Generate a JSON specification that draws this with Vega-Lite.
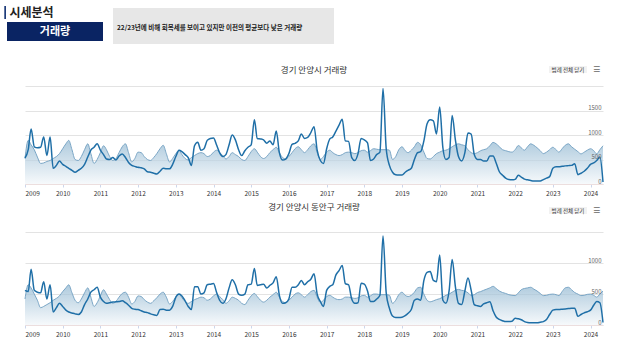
{
 "$schema": "https://vega.github.io/schema/vega-lite/v6.json",
 "background": "white",
 "padding": 0,
 "bounds": "flush",
 "spacing": 42,
 "config": {"view": {"stroke": null}, "font": "Noto Sans CJK KR"},
 "datasets": {
  "a": [
{"d":"2009-01","v":530,"a":520},{"d":"2009-02","v":700,"a":890},{"d":"2009-03","v":1120,"a":800},{"d":"2009-04","v":760,"a":700},{"d":"2009-05","v":740,"a":550},{"d":"2009-06","v":750,"a":420},{"d":"2009-07","v":960,"a":430},{"d":"2009-08","v":580,"a":460},{"d":"2009-09","v":960,"a":480},{"d":"2009-10","v":320,"a":520},{"d":"2009-11","v":380,"a":560},{"d":"2009-12","v":470,"a":620},
{"d":"2010-01","v":400,"a":720},{"d":"2010-02","v":360,"a":820},{"d":"2010-03","v":320,"a":890},{"d":"2010-04","v":280,"a":700},{"d":"2010-05","v":240,"a":500},{"d":"2010-06","v":280,"a":480},{"d":"2010-07","v":320,"a":560},{"d":"2010-08","v":400,"a":700},{"d":"2010-09","v":550,"a":820},{"d":"2010-10","v":690,"a":620},{"d":"2010-11","v":750,"a":420},{"d":"2010-12","v":820,"a":500},
{"d":"2011-01","v":690,"a":640},{"d":"2011-02","v":600,"a":780},{"d":"2011-03","v":510,"a":700},{"d":"2011-04","v":500,"a":560},{"d":"2011-05","v":540,"a":480},{"d":"2011-06","v":490,"a":520},{"d":"2011-07","v":570,"a":640},{"d":"2011-08","v":610,"a":760},{"d":"2011-09","v":540,"a":820},{"d":"2011-10","v":440,"a":640},{"d":"2011-11","v":380,"a":450},{"d":"2011-12","v":360,"a":520},
{"d":"2012-01","v":340,"a":650},{"d":"2012-02","v":330,"a":640},{"d":"2012-03","v":310,"a":560},{"d":"2012-04","v":250,"a":500},{"d":"2012-05","v":240,"a":480},{"d":"2012-06","v":220,"a":540},{"d":"2012-07","v":205,"a":620},{"d":"2012-08","v":260,"a":720},{"d":"2012-09","v":320,"a":790},{"d":"2012-10","v":310,"a":620},{"d":"2012-11","v":310,"a":450},{"d":"2012-12","v":400,"a":520},
{"d":"2013-01","v":560,"a":620},{"d":"2013-02","v":690,"a":690},{"d":"2013-03","v":660,"a":600},{"d":"2013-04","v":600,"a":520},{"d":"2013-05","v":540,"a":490},{"d":"2013-06","v":380,"a":540},{"d":"2013-07","v":780,"a":580},{"d":"2013-08","v":850,"a":620},{"d":"2013-09","v":690,"a":640},{"d":"2013-10","v":720,"a":620},{"d":"2013-11","v":890,"a":560},{"d":"2013-12","v":930,"a":580},
{"d":"2014-01","v":940,"a":650},{"d":"2014-02","v":790,"a":690},{"d":"2014-03","v":640,"a":640},{"d":"2014-04","v":560,"a":580},{"d":"2014-05","v":600,"a":510},{"d":"2014-06","v":800,"a":560},{"d":"2014-07","v":1000,"a":640},{"d":"2014-08","v":900,"a":600},{"d":"2014-09","v":700,"a":560},{"d":"2014-10","v":580,"a":500},{"d":"2014-11","v":680,"a":480},{"d":"2014-12","v":750,"a":560},
{"d":"2015-01","v":800,"a":660},{"d":"2015-02","v":1310,"a":720},{"d":"2015-03","v":930,"a":650},{"d":"2015-04","v":920,"a":560},{"d":"2015-05","v":900,"a":520},{"d":"2015-06","v":830,"a":560},{"d":"2015-07","v":880,"a":640},{"d":"2015-08","v":800,"a":700},{"d":"2015-09","v":1080,"a":750},{"d":"2015-10","v":640,"a":640},{"d":"2015-11","v":490,"a":540},{"d":"2015-12","v":510,"a":510},
{"d":"2016-01","v":620,"a":560},{"d":"2016-02","v":810,"a":640},{"d":"2016-03","v":830,"a":720},{"d":"2016-04","v":880,"a":760},{"d":"2016-05","v":1020,"a":700},{"d":"2016-06","v":930,"a":640},{"d":"2016-07","v":950,"a":700},{"d":"2016-08","v":1050,"a":780},{"d":"2016-09","v":1170,"a":820},{"d":"2016-10","v":690,"a":640},{"d":"2016-11","v":480,"a":500},{"d":"2016-12","v":420,"a":560},
{"d":"2017-01","v":720,"a":650},{"d":"2017-02","v":920,"a":690},{"d":"2017-03","v":960,"a":640},{"d":"2017-04","v":1080,"a":600},{"d":"2017-05","v":1200,"a":580},{"d":"2017-06","v":1320,"a":600},{"d":"2017-07","v":880,"a":640},{"d":"2017-08","v":870,"a":650},{"d":"2017-09","v":540,"a":640},{"d":"2017-10","v":480,"a":620},{"d":"2017-11","v":620,"a":640},{"d":"2017-12","v":930,"a":680},
{"d":"2018-01","v":900,"a":690},{"d":"2018-02","v":840,"a":650},{"d":"2018-03","v":480,"a":680},{"d":"2018-04","v":510,"a":720},{"d":"2018-05","v":600,"a":710},{"d":"2018-06","v":650,"a":700},{"d":"2018-07","v":1950,"a":700},{"d":"2018-08","v":720,"a":700},{"d":"2018-09","v":380,"a":690},{"d":"2018-10","v":240,"a":500},{"d":"2018-11","v":190,"a":560},{"d":"2018-12","v":185,"a":700},
{"d":"2019-01","v":185,"a":760},{"d":"2019-02","v":240,"a":680},{"d":"2019-03","v":280,"a":640},{"d":"2019-04","v":320,"a":690},{"d":"2019-05","v":500,"a":760},{"d":"2019-06","v":640,"a":850},{"d":"2019-07","v":660,"a":800},{"d":"2019-08","v":880,"a":650},{"d":"2019-09","v":1230,"a":520},{"d":"2019-10","v":1310,"a":510},{"d":"2019-11","v":1290,"a":560},{"d":"2019-12","v":1020,"a":620},
{"d":"2020-01","v":1570,"a":650},{"d":"2020-02","v":740,"a":680},{"d":"2020-03","v":500,"a":690},{"d":"2020-04","v":540,"a":720},{"d":"2020-05","v":1400,"a":760},{"d":"2020-06","v":900,"a":800},{"d":"2020-07","v":560,"a":820},{"d":"2020-08","v":470,"a":800},{"d":"2020-09","v":640,"a":780},{"d":"2020-10","v":1040,"a":700},{"d":"2020-11","v":1020,"a":640},{"d":"2020-12","v":600,"a":620},
{"d":"2021-01","v":500,"a":640},{"d":"2021-02","v":500,"a":680},{"d":"2021-03","v":470,"a":700},{"d":"2021-04","v":470,"a":720},{"d":"2021-05","v":570,"a":780},{"d":"2021-06","v":570,"a":850},{"d":"2021-07","v":430,"a":820},{"d":"2021-08","v":250,"a":760},{"d":"2021-09","v":180,"a":700},{"d":"2021-10","v":120,"a":680},{"d":"2021-11","v":90,"a":660},{"d":"2021-12","v":85,"a":650},
{"d":"2022-01","v":95,"a":700},{"d":"2022-02","v":180,"a":785},{"d":"2022-03","v":140,"a":740},{"d":"2022-04","v":100,"a":690},{"d":"2022-05","v":85,"a":760},{"d":"2022-06","v":70,"a":820},{"d":"2022-07","v":60,"a":790},{"d":"2022-08","v":60,"a":740},{"d":"2022-09","v":60,"a":680},{"d":"2022-10","v":90,"a":620},{"d":"2022-11","v":120,"a":650},{"d":"2022-12","v":150,"a":700},
{"d":"2023-01","v":320,"a":750},{"d":"2023-02","v":350,"a":700},{"d":"2023-03","v":350,"a":650},{"d":"2023-04","v":360,"a":720},{"d":"2023-05","v":370,"a":790},{"d":"2023-06","v":375,"a":820},{"d":"2023-07","v":380,"a":760},{"d":"2023-08","v":415,"a":710},{"d":"2023-09","v":190,"a":660},{"d":"2023-10","v":220,"a":615},{"d":"2023-11","v":260,"a":650},{"d":"2023-12","v":320,"a":690},
{"d":"2024-01","v":400,"a":720},{"d":"2024-02","v":430,"a":680},{"d":"2024-03","v":480,"a":615},{"d":"2024-04","v":550,"a":700},{"d":"2024-05","v":40,"a":780}
  ],
  "b": [
{"d":"2009-01","v":560,"a":420},{"d":"2009-02","v":540,"a":650},{"d":"2009-03","v":900,"a":600},{"d":"2009-04","v":560,"a":500},{"d":"2009-05","v":530,"a":400},{"d":"2009-06","v":520,"a":280},{"d":"2009-07","v":700,"a":300},{"d":"2009-08","v":420,"a":330},{"d":"2009-09","v":650,"a":360},{"d":"2009-10","v":210,"a":400},{"d":"2009-11","v":280,"a":430},{"d":"2009-12","v":350,"a":470},
{"d":"2010-01","v":300,"a":540},{"d":"2010-02","v":240,"a":600},{"d":"2010-03","v":210,"a":650},{"d":"2010-04","v":195,"a":520},{"d":"2010-05","v":180,"a":400},{"d":"2010-06","v":170,"a":360},{"d":"2010-07","v":210,"a":420},{"d":"2010-08","v":330,"a":520},{"d":"2010-09","v":420,"a":600},{"d":"2010-10","v":530,"a":450},{"d":"2010-11","v":570,"a":300},{"d":"2010-12","v":610,"a":360},
{"d":"2011-01","v":450,"a":470},{"d":"2011-02","v":380,"a":570},{"d":"2011-03","v":350,"a":500},{"d":"2011-04","v":360,"a":410},{"d":"2011-05","v":370,"a":350},{"d":"2011-06","v":375,"a":380},{"d":"2011-07","v":380,"a":450},{"d":"2011-08","v":390,"a":510},{"d":"2011-09","v":360,"a":530},{"d":"2011-10","v":320,"a":450},{"d":"2011-11","v":270,"a":340},{"d":"2011-12","v":255,"a":380},
{"d":"2012-01","v":250,"a":470},{"d":"2012-02","v":230,"a":460},{"d":"2012-03","v":210,"a":410},{"d":"2012-04","v":200,"a":370},{"d":"2012-05","v":180,"a":350},{"d":"2012-06","v":165,"a":390},{"d":"2012-07","v":155,"a":440},{"d":"2012-08","v":250,"a":500},{"d":"2012-09","v":255,"a":530},{"d":"2012-10","v":240,"a":450},{"d":"2012-11","v":240,"a":340},{"d":"2012-12","v":300,"a":380},
{"d":"2013-01","v":450,"a":450},{"d":"2013-02","v":500,"a":500},{"d":"2013-03","v":470,"a":440},{"d":"2013-04","v":390,"a":380},{"d":"2013-05","v":300,"a":350},{"d":"2013-06","v":250,"a":380},{"d":"2013-07","v":620,"a":410},{"d":"2013-08","v":620,"a":430},{"d":"2013-09","v":500,"a":450},{"d":"2013-10","v":520,"a":440},{"d":"2013-11","v":650,"a":400},{"d":"2013-12","v":660,"a":420},
{"d":"2014-01","v":670,"a":470},{"d":"2014-02","v":520,"a":500},{"d":"2014-03","v":400,"a":460},{"d":"2014-04","v":350,"a":410},{"d":"2014-05","v":420,"a":350},{"d":"2014-06","v":600,"a":390},{"d":"2014-07","v":730,"a":450},{"d":"2014-08","v":650,"a":430},{"d":"2014-09","v":500,"a":400},{"d":"2014-10","v":480,"a":350},{"d":"2014-11","v":500,"a":330},{"d":"2014-12","v":650,"a":400},
{"d":"2015-01","v":660,"a":470},{"d":"2015-02","v":915,"a":510},{"d":"2015-03","v":640,"a":460},{"d":"2015-04","v":650,"a":400},{"d":"2015-05","v":660,"a":370},{"d":"2015-06","v":600,"a":400},{"d":"2015-07","v":640,"a":450},{"d":"2015-08","v":680,"a":490},{"d":"2015-09","v":780,"a":530},{"d":"2015-10","v":480,"a":450},{"d":"2015-11","v":350,"a":380},{"d":"2015-12","v":360,"a":360},
{"d":"2016-01","v":420,"a":400},{"d":"2016-02","v":610,"a":450},{"d":"2016-03","v":610,"a":500},{"d":"2016-04","v":650,"a":520},{"d":"2016-05","v":720,"a":490},{"d":"2016-06","v":650,"a":450},{"d":"2016-07","v":700,"a":490},{"d":"2016-08","v":740,"a":540},{"d":"2016-09","v":830,"a":560},{"d":"2016-10","v":500,"a":450},{"d":"2016-11","v":380,"a":360},{"d":"2016-12","v":300,"a":400},
{"d":"2017-01","v":560,"a":460},{"d":"2017-02","v":625,"a":480},{"d":"2017-03","v":650,"a":450},{"d":"2017-04","v":810,"a":420},{"d":"2017-05","v":880,"a":410},{"d":"2017-06","v":960,"a":420},{"d":"2017-07","v":670,"a":450},{"d":"2017-08","v":650,"a":450},{"d":"2017-09","v":420,"a":440},{"d":"2017-10","v":350,"a":430},{"d":"2017-11","v":360,"a":440},{"d":"2017-12","v":675,"a":470},
{"d":"2018-01","v":660,"a":480},{"d":"2018-02","v":550,"a":450},{"d":"2018-03","v":380,"a":470},{"d":"2018-04","v":380,"a":500},{"d":"2018-05","v":420,"a":500},{"d":"2018-06","v":480,"a":490},{"d":"2018-07","v":1440,"a":490},{"d":"2018-08","v":520,"a":490},{"d":"2018-09","v":270,"a":480},{"d":"2018-10","v":145,"a":350},{"d":"2018-11","v":120,"a":400},{"d":"2018-12","v":120,"a":490},
{"d":"2019-01","v":125,"a":530},{"d":"2019-02","v":150,"a":480},{"d":"2019-03","v":190,"a":460},{"d":"2019-04","v":250,"a":480},{"d":"2019-05","v":400,"a":530},{"d":"2019-06","v":420,"a":600},{"d":"2019-07","v":400,"a":610},{"d":"2019-08","v":720,"a":500},{"d":"2019-09","v":850,"a":400},{"d":"2019-10","v":865,"a":375},{"d":"2019-11","v":720,"a":390},{"d":"2019-12","v":700,"a":410},
{"d":"2020-01","v":1130,"a":425},{"d":"2020-02","v":400,"a":450},{"d":"2020-03","v":350,"a":480},{"d":"2020-04","v":550,"a":500},{"d":"2020-05","v":1060,"a":530},{"d":"2020-06","v":620,"a":560},{"d":"2020-07","v":350,"a":575},{"d":"2020-08","v":330,"a":560},{"d":"2020-09","v":550,"a":550},{"d":"2020-10","v":760,"a":520},{"d":"2020-11","v":560,"a":480},{"d":"2020-12","v":330,"a":490},
{"d":"2021-01","v":310,"a":525},{"d":"2021-02","v":300,"a":540},{"d":"2021-03","v":340,"a":560},{"d":"2021-04","v":360,"a":580},{"d":"2021-05","v":375,"a":600},{"d":"2021-06","v":230,"a":625},{"d":"2021-07","v":130,"a":590},{"d":"2021-08","v":90,"a":550},{"d":"2021-09","v":70,"a":525},{"d":"2021-10","v":55,"a":510},{"d":"2021-11","v":55,"a":490},{"d":"2021-12","v":60,"a":480},
{"d":"2022-01","v":110,"a":475},{"d":"2022-02","v":100,"a":520},{"d":"2022-03","v":85,"a":570},{"d":"2022-04","v":55,"a":590},{"d":"2022-05","v":40,"a":600},{"d":"2022-06","v":35,"a":610},{"d":"2022-07","v":35,"a":580},{"d":"2022-08","v":35,"a":550},{"d":"2022-09","v":45,"a":510},{"d":"2022-10","v":55,"a":475},{"d":"2022-11","v":90,"a":480},{"d":"2022-12","v":170,"a":495},
{"d":"2023-01","v":240,"a":500},{"d":"2023-02","v":250,"a":490},{"d":"2023-03","v":250,"a":475},{"d":"2023-04","v":255,"a":540},{"d":"2023-05","v":260,"a":600},{"d":"2023-06","v":265,"a":610},{"d":"2023-07","v":270,"a":570},{"d":"2023-08","v":270,"a":525},{"d":"2023-09","v":140,"a":500},{"d":"2023-10","v":170,"a":475},{"d":"2023-11","v":195,"a":480},{"d":"2023-12","v":215,"a":495},
{"d":"2024-01","v":240,"a":500},{"d":"2024-02","v":320,"a":480},{"d":"2024-03","v":380,"a":450},{"d":"2024-04","v":360,"a":500},{"d":"2024-05","v":40,"a":550}
  ]
 },
 "vconcat": [
  {
   "width": 578, "height": 44,
   "data": {"values": [{}]},
   "layer": [
    {"mark": {"type": "rect", "x": -25, "x2": 615, "y": 0, "y2": 44, "fill": "white"}},
    {"mark": {"type": "rect", "x": -20.7, "x2": -19, "y": 6, "y2": 19, "fill": "#1d3b7a"}},
    {"mark": {"type": "text", "x": -15.5, "y": 13, "text": "시세분석", "fontSize": 12, "fontWeight": "bold", "align": "left", "baseline": "middle", "fill": "#222222"}},
    {"mark": {"type": "rect", "x": -18, "x2": 78, "y": 22, "y2": 41, "fill": "#0a2463"}},
    {"mark": {"type": "text", "x": 30, "y": 31.5, "text": "거래량", "fontSize": 11, "fontWeight": "bold", "align": "center", "baseline": "middle", "fill": "white"}},
    {"mark": {"type": "rect", "x": 88, "x2": 309, "y": 8, "y2": 44, "fill": "#e7e7e7"}},
    {"mark": {"type": "text", "x": 92, "y": 28, "text": "22/23년에 비해 회복세를 보이고 있지만 이전의 평균보다 낮은 거래량", "fontSize": 6.5, "fontWeight": "bold", "align": "left", "baseline": "middle", "fill": "#222222"}}
   ]
  },
  {
   "width": 578, "height": 98,
   "title": {"text": "경기 안양시 거래량", "fontSize": 8.5, "fontWeight": "normal", "color": "#333333", "anchor": "middle", "offset": -9},
   "resolve": {"axis": {"y": "independent"}},
   "layer": [
    {
     "data": {"name": "a"},
     "mark": {"type": "area", "interpolate": "monotone", "line": {"color": "#7aa6c6", "strokeWidth": 1},
      "fill": {"gradient": "linear", "x1": 0, "y1": 0, "x2": 0, "y2": 1, "stops": [{"offset": 0, "color": "#8cb4cf"}, {"offset": 1, "color": "#f3f7fa"}]}},
     "encoding": {
      "x": {"field": "d", "type": "temporal", "scale": {"type": "utc", "domain": [{"year": 2009, "month": 1, "date": 1, "utc": true}, {"year": 2024, "month": 5, "date": 1, "utc": true}]},
       "axis": {"title": null, "format": "%Y", "tickCount": {"interval": "year", "step": 1}, "grid": false, "labelFlush": true, "labelFontSize": 6.5, "labelColor": "#333333", "labelPadding": 3, "tickSize": 3, "tickColor": "#ccd6eb", "domainColor": "#ecdede", "labelOverlap": false}},
      "y": {"field": "a", "type": "quantitative", "scale": {"domain": [0, 2000]},
       "axis": {"orient": "right", "title": null, "values": [0, 500, 1000, 1500, 2000], "labels": false, "grid": true, "gridColor": "#e3e3e3", "domain": false, "ticks": false, "zindex": 0}}
     }
    },
    {
     "data": {"name": "a"},
     "mark": {"type": "line", "interpolate": "monotone", "color": "#1f6fa7", "strokeWidth": 1.5},
     "encoding": {"x": {"field": "d", "type": "temporal"},
      "y": {"field": "v", "type": "quantitative",
       "axis": {"orient": "right", "title": null, "values": [0, 500, 1000, 1500], "format": "d", "grid": false, "domain": false, "ticks": false, "tickSize": 0, "labelAlign": "right", "labelBaseline": "alphabetic", "labelPadding": -2, "labelOffset": -1, "labelFontSize": 6, "labelColor": "#666666", "labelOverlap": false, "zindex": 1}}}
    },
    {"data": {"values": [{}]}, "mark": {"type": "rect", "x": 524, "x2": 562, "y": -20, "y2": -13, "fill": "#f2f2f2"}},
    {"data": {"values": [{}]}, "mark": {"type": "text", "x": 543, "y": -16.5, "text": "범례 전체 닫기", "fontSize": 5.5, "align": "center", "baseline": "middle", "fill": "#333333"}},
    {"data": {"values": [{}]}, "mark": {"type": "text", "x": 571.5, "y": -16.5, "text": "☰", "font": "DejaVu Sans", "fontSize": 8, "align": "center", "baseline": "middle", "fill": "#666666"}}
   ]
  },
  {
   "width": 578, "height": 99,
   "title": {"text": "경기 안양시 동안구 거래량", "fontSize": 8.5, "fontWeight": "normal", "color": "#333333", "anchor": "middle", "offset": -5},
   "resolve": {"axis": {"y": "independent"}},
   "layer": [
    {
     "data": {"name": "b"},
     "mark": {"type": "area", "interpolate": "monotone", "line": {"color": "#7aa6c6", "strokeWidth": 1},
      "fill": {"gradient": "linear", "x1": 0, "y1": 0, "x2": 0, "y2": 1, "stops": [{"offset": 0, "color": "#8cb4cf"}, {"offset": 1, "color": "#f3f7fa"}]}},
     "encoding": {
      "x": {"field": "d", "type": "temporal", "scale": {"type": "utc", "domain": [{"year": 2009, "month": 1, "date": 1, "utc": true}, {"year": 2024, "month": 5, "date": 1, "utc": true}]},
       "axis": {"title": null, "format": "%Y", "tickCount": {"interval": "year", "step": 1}, "grid": false, "labelFlush": true, "labelFontSize": 6.5, "labelColor": "#333333", "labelPadding": 3, "tickSize": 3, "tickColor": "#ccd6eb", "domainColor": "#ecdede", "labelOverlap": false}},
      "y": {"field": "a", "type": "quantitative", "scale": {"domain": [0, 1500]},
       "axis": {"orient": "right", "title": null, "values": [0, 500, 1000, 1500], "labels": false, "grid": true, "gridColor": "#e3e3e3", "domain": false, "ticks": false, "zindex": 0}}
     }
    },
    {
     "data": {"name": "b"},
     "mark": {"type": "line", "interpolate": "monotone", "color": "#1f6fa7", "strokeWidth": 1.5},
     "encoding": {"x": {"field": "d", "type": "temporal"},
      "y": {"field": "v", "type": "quantitative",
       "axis": {"orient": "right", "title": null, "values": [0, 500, 1000], "format": "d", "grid": false, "domain": false, "ticks": false, "tickSize": 0, "labelAlign": "right", "labelBaseline": "alphabetic", "labelPadding": -2, "labelOffset": -1, "labelFontSize": 6, "labelColor": "#666666", "labelOverlap": false, "zindex": 1}}}
    },
    {"data": {"values": [{}]}, "mark": {"type": "rect", "x": 524, "x2": 562, "y": -19, "y2": -12, "fill": "#f2f2f2"}},
    {"data": {"values": [{}]}, "mark": {"type": "text", "x": 543, "y": -15.5, "text": "범례 전체 닫기", "fontSize": 5.5, "align": "center", "baseline": "middle", "fill": "#333333"}},
    {"data": {"values": [{}]}, "mark": {"type": "text", "x": 571.5, "y": -15.5, "text": "☰", "font": "DejaVu Sans", "fontSize": 8, "align": "center", "baseline": "middle", "fill": "#666666"}}
   ]
  }
 ]
}
